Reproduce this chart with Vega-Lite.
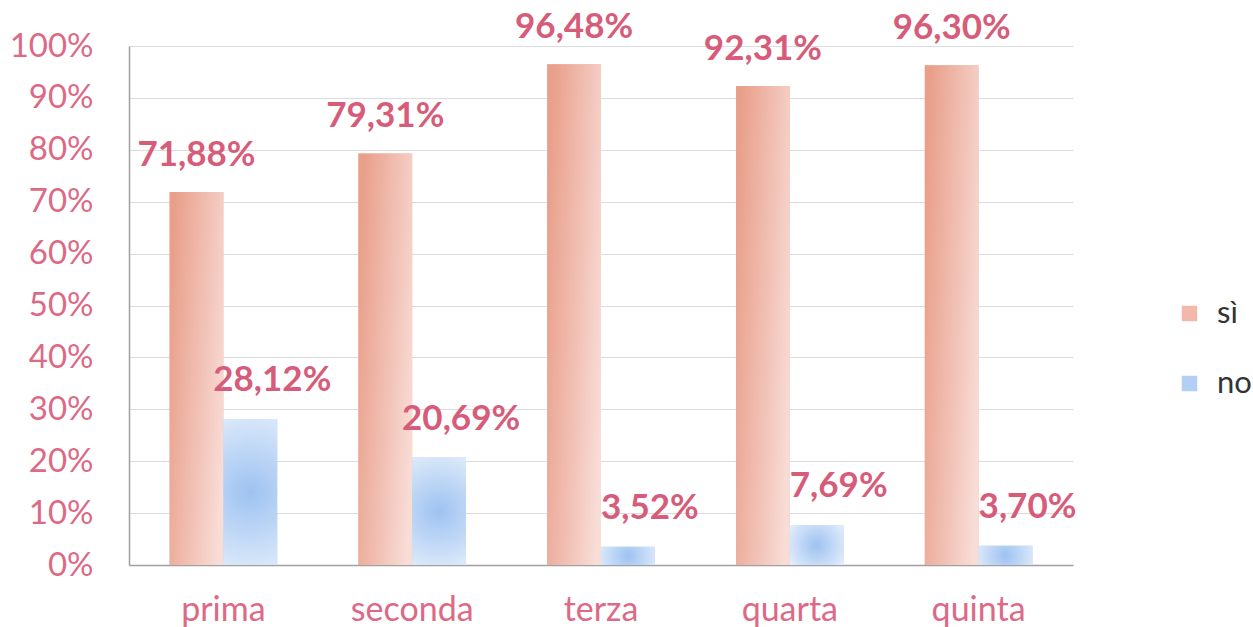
{
  "$schema": "https://vega.github.io/schema/vega-lite/v6.json",
  "width": 944,
  "height": 519,
  "autosize": {"type": "none"},
  "padding": {"left": 129, "top": 46, "right": 180, "bottom": 62},
  "background": "white",
  "config": {
    "locale": {"number": {"decimal": ",", "thousands": ".", "grouping": [3], "currency": ["€", ""]}},
    "view": {"stroke": null},
    "font": "Lato"
  },
  "data": {
    "values": [
      {"classe": "prima", "risposta": "sì", "valore": 0.7188},
      {"classe": "prima", "risposta": "no", "valore": 0.2812},
      {"classe": "seconda", "risposta": "sì", "valore": 0.7931},
      {"classe": "seconda", "risposta": "no", "valore": 0.2069},
      {"classe": "terza", "risposta": "sì", "valore": 0.9648},
      {"classe": "terza", "risposta": "no", "valore": 0.0352},
      {"classe": "quarta", "risposta": "sì", "valore": 0.9231},
      {"classe": "quarta", "risposta": "no", "valore": 0.0769},
      {"classe": "quinta", "risposta": "sì", "valore": 0.9630},
      {"classe": "quinta", "risposta": "no", "valore": 0.0370}
    ]
  },
  "encoding": {
    "x": {
      "field": "classe", "type": "nominal", "sort": null,
      "scale": {"paddingInner": 0.43, "paddingOuter": 0.215},
      "axis": {
        "title": null, "labelAngle": 0, "ticks": false,
        "labelFont": "Lato", "labelFontSize": 34, "labelColor": "#dc6a86",
        "labelPadding": 28, "domainColor": "#a0a0a0", "domainWidth": 1.5
      }
    },
    "xOffset": {"field": "risposta", "type": "nominal", "scale": {"domain": ["sì", "no"], "paddingInner": 0, "paddingOuter": 0}},
    "y": {
      "field": "valore", "type": "quantitative",
      "scale": {"domain": [0, 1]},
      "axis": {
        "title": null, "format": ".0%", "values": [0,0.1,0.2,0.3,0.4,0.5,0.6,0.7,0.8,0.9,1],
        "labelOverlap": false, "labelFlush": false,
        "ticks": false, "labelFont": "Lato", "labelFontSize": 33, "labelColor": "#dc6a86",
        "labelPadding": 36, "domainColor": "#a0a0a0", "domainWidth": 1.5,
        "gridColor": "#dcdcdc", "gridWidth": 1.2
      }
    }
  },
  "layer": [
    {
      "mark": {"type": "bar"},
      "encoding": {
        "color": {
          "field": "risposta", "type": "nominal",
          "scale": {"domain": ["sì", "no"], "range": ["#f2b9aa", "#b3cff5"]},
          "legend": {
            "title": null, "orient": "none", "legendX": 1045, "legendY": 252,
            "symbolType": "square", "symbolSize": 240, "labelFont": "Lato",
            "labelFontSize": 31, "labelColor": "#333333", "rowPadding": 38, "labelOffset": 12,
            "symbolStrokeWidth": 0
          }
        }
      }
    },
    {
      "transform": [{"filter": "datum.risposta === 'sì'"}],
      "mark": {
        "type": "bar",
        "fill": {
          "gradient": "linear", "x1": 0, "y1": 0.3, "x2": 1, "y2": 0.7,
          "stops": [
            {"offset": 0, "color": "#e9a08b"},
            {"offset": 0.6, "color": "#f2c3b8"},
            {"offset": 1, "color": "#f8dcd6"}
          ]
        }
      }
    },
    {
      "transform": [{"filter": "datum.risposta === 'no'"}],
      "mark": {
        "type": "bar",
        "fill": {
          "gradient": "radial", "x1": 0.5, "y1": 0.5, "r1": 0, "x2": 0.5, "y2": 0.5, "r2": 0.6,
          "stops": [
            {"offset": 0, "color": "#9ec2f1"},
            {"offset": 1, "color": "#e2edfb"}
          ]
        }
      }
    },
    {
      "transform": [{"filter": "datum.risposta === 'sì'"}],
      "mark": {"type": "text", "baseline": "alphabetic", "dy": -26, "font": "Lato", "fontWeight": "bold", "fontSize": 35, "fill": "#d65c7a"},
      "encoding": {"text": {"field": "valore", "type": "quantitative", "format": ".2%"}}
    },
    {
      "transform": [{"filter": "datum.risposta === 'no'"}],
      "mark": {"type": "text", "baseline": "alphabetic", "dy": -28, "dx": 22, "font": "Lato", "fontWeight": "bold", "fontSize": 35, "fill": "#d65c7a"},
      "encoding": {"text": {"field": "valore", "type": "quantitative", "format": ".2%"}}
    }
  ]
}
